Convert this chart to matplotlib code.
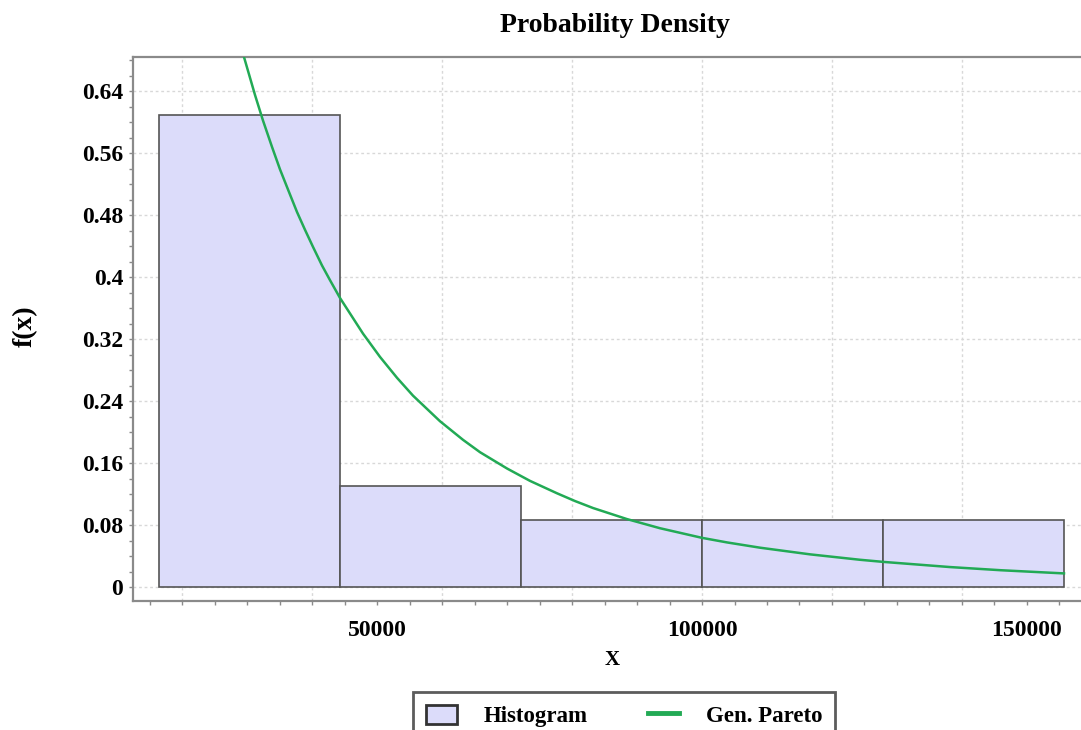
import matplotlib
matplotlib.use('Agg')
import matplotlib.pyplot as plt
import numpy as np
from matplotlib.patches import Patch
from matplotlib.lines import Line2D

plt.rcParams['font.family'] = ['Liberation Serif', 'DejaVu Serif']
plt.rcParams['font.weight'] = 'bold'

# histogram (relative frequencies)
bin_edges = [16460, 44310, 72160, 100010, 127860, 155700]
bin_heights = [0.6087, 0.1304, 0.0870, 0.0870, 0.0870]

# fitted generalized Pareto curve
pareto_x = [29536, 31230, 32460, 33845, 35075, 36307, 37690, 38922, 40150,
            41537, 42770, 44310, 47850, 50460, 53080, 55537, 59690, 63230,
            65850, 70000, 73540, 77692, 80460, 83230, 88460, 93540, 100000,
            103846, 108920, 116615, 124310, 127850, 138150, 146000, 155690]
pareto_y = [0.684, 0.635, 0.602, 0.568, 0.539, 0.513, 0.484, 0.461, 0.439,
            0.415, 0.396, 0.373, 0.327, 0.297, 0.270, 0.247, 0.214, 0.190,
            0.174, 0.153, 0.137, 0.121, 0.111, 0.102, 0.0877, 0.0759, 0.0635,
            0.0576, 0.0508, 0.0422, 0.0352, 0.0325, 0.0258, 0.0217, 0.0176]

xtick_vals = [50000, 100000, 150000]
xtick_labels = ['50000', '100000', '150000']
ytick_vals = [0, 0.08, 0.16, 0.24, 0.32, 0.40, 0.48, 0.56, 0.64]
ytick_labels = ['0', '0.08', '0.16', '0.24', '0.32', '0.4', '0.48', '0.56', '0.64']
xgrid_vals = [20000, 40000, 60000, 80000, 100000, 120000, 140000, 160000]

W, H = 1081, 730
fig = plt.figure(figsize=(W / 100, H / 100), dpi=100)
ax = fig.add_axes([133 / W, 1 - 601 / H, (1097 - 133) / W, (601 - 57) / H])

#==============================================================================
# grid
for v in ytick_vals:
    ax.axhline(v, color='#d8d8d8', lw=1, ls=(0, (2, 2)), zorder=0)
for v in xgrid_vals:
    ax.axvline(v, color='#d8d8d8', lw=1, ls=(0, (2, 2)), zorder=0)

# histogram bars
widths = np.diff(bin_edges)
ax.bar(bin_edges[:-1], bin_heights, width=widths, align='edge',
       facecolor='#dcdcfa', edgecolor='#555555', linewidth=1.2, zorder=2)

# fitted curve
ax.plot(pareto_x, pareto_y, color='#22aa55', lw=1.8, zorder=3)

ax.set_xlim(12460, 160770)
ax.set_ylim(-0.018, 0.684)

#==============================================================================
# axes styling
for s in ['top', 'left', 'bottom']:
    ax.spines[s].set_color('#8a8a8a')
    ax.spines[s].set_linewidth(1.6)
ax.spines['right'].set_visible(False)

ax.set_xticks(xtick_vals)
ax.set_xticklabels(xtick_labels)
ax.set_xticks(np.arange(15000, 160001, 5000), minor=True)
ax.set_yticks(ytick_vals)
ax.set_yticklabels(ytick_labels)
ax.set_yticks(np.arange(0, 0.681, 0.02), minor=True)

ax.tick_params(axis='both', which='both', direction='out', color='#8a8a8a',
               length=3, width=1, labelsize=17)
ax.tick_params(axis='x', which='major', pad=11)
ax.tick_params(axis='y', which='major', pad=4)

fig.text(615 / W, 1 - 25 / H, 'Probability Density', ha='center', va='center',
         fontsize=20, fontweight='bold')
fig.text(612 / W, 1 - 660 / H, 'X', ha='center', va='center',
         fontsize=15, fontweight='bold')
fig.text(25 / W, 1 - 326 / H, 'f(x)', ha='center', va='center', rotation=90,
         fontsize=20, fontweight='bold')

# legend
handles = [Patch(facecolor='#dcdcfa', edgecolor='#333333', linewidth=2),
           Line2D([0], [0], color='#22aa55', lw=3.5)]
leg = fig.legend(handles, ['Histogram', 'Gen. Pareto'], ncol=2,
                 loc='upper left', bbox_to_anchor=(413 / W, 1 - 692 / H),
                 bbox_transform=fig.transFigure, borderaxespad=0,
                 fancybox=False, frameon=True, fontsize=16.5,
                 handlelength=1.35, handleheight=0.9, handletextpad=1.2,
                 columnspacing=2.6, borderpad=0.55)
leg.get_frame().set_edgecolor('#333333')
leg.get_frame().set_linewidth(2)

plt.savefig('out.png', dpi=100)
plt.close('all')
